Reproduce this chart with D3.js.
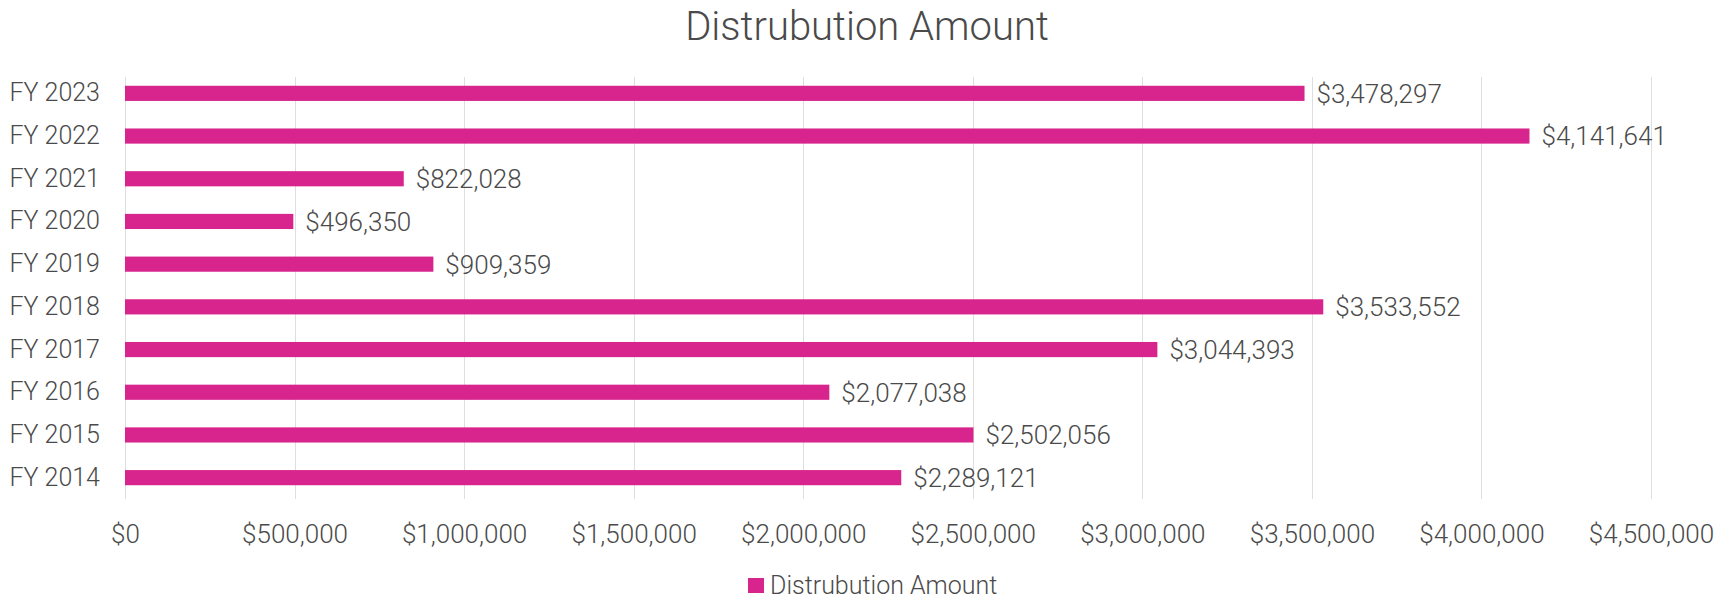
<!DOCTYPE html>
<html>
<head>
<meta charset="utf-8">
<script src="https://cdn.jsdelivr.net/npm/d3@7"></script>
<style>
  html, body { margin: 0; padding: 0; background: #fff; }
  svg { display: block; }
</style>
</head>
<body>
<svg id="chart" width="1724" height="600"></svg>
<script>
const categories = ["FY 2023", "FY 2022", "FY 2021", "FY 2020", "FY 2019", "FY 2018", "FY 2017", "FY 2016", "FY 2015", "FY 2014"];
const amounts = [3478297, 4141641, 822028, 496350, 909359, 3533552, 3044393, 2077038, 2502056, 2289121];
const xTicks = [0, 500000, 1000000, 1500000, 2000000, 2500000, 3000000, 3500000, 4000000, 4500000];
const seriesName = "Distrubution Amount";
const chartTitle = "Distrubution Amount";

const data = categories.map((c, i) => ({ cat: c, value: amounts[i] }));

const svg = d3.select("#chart");
const textFont = "Roboto, 'Open Sans', sans-serif";
const textColor = "#4a4a4a";
const barColor = "#d8248d";

const x = d3.scaleLinear().domain([0, 4500000]).range([125, 1651]);
const y = d3.scaleBand().domain(categories).range([72, 499]).paddingInner(0.645).paddingOuter(0.3225);

const fmt = v => "$" + d3.format(",")(v);

// gridlines
svg.append("g")
  .selectAll("line")
  .data(xTicks)
  .join("line")
  .attr("x1", d => Math.round(x(d)) + 0.5)
  .attr("x2", d => Math.round(x(d)) + 0.5)
  .attr("y1", 77)
  .attr("y2", 499)
  .attr("stroke", "#dedede")
  .attr("stroke-width", 1);

// x axis labels
const xAxis = d3.axisBottom(x).tickValues(xTicks).tickFormat(fmt).tickSize(0).tickPadding(0);
const gx = svg.append("g").attr("transform", "translate(0,525)").call(xAxis);
gx.select(".domain").remove();
gx.selectAll("text")
  .attr("dy", "0.71em")
  .attr("font-family", textFont)
  .attr("font-weight", 300)
  .attr("font-size", 26)
  .attr("fill", textColor);

// y axis labels
const yAxis = d3.axisLeft(y).tickSize(0).tickPadding(0);
const gy = svg.append("g").attr("transform", "translate(100,0)").call(yAxis);
gy.select(".domain").remove();
gy.selectAll("text")
  .attr("font-family", textFont)
  .attr("font-weight", 300)
  .attr("font-size", 25)
  .attr("fill", textColor);

// bars
svg.append("g")
  .selectAll("rect")
  .data(data)
  .join("rect")
  .attr("x", x(0))
  .attr("y", d => y(d.cat))
  .attr("width", d => x(d.value) - x(0))
  .attr("height", y.bandwidth())
  .attr("fill", barColor);

// data labels
svg.append("g")
  .selectAll("text")
  .data(data)
  .join("text")
  .attr("x", d => x(d.value) + 12)
  .attr("y", d => y(d.cat) + y.bandwidth() / 2)
  .attr("dy", "0.36em")
  .attr("font-family", textFont)
  .attr("font-weight", 300)
  .attr("font-size", 26)
  .attr("fill", textColor)
  .text(d => fmt(d.value));

// title
svg.append("text")
  .attr("x", 867)
  .attr("y", 40)
  .attr("text-anchor", "middle")
  .attr("font-family", textFont)
  .attr("font-weight", 300)
  .attr("font-size", 40)
  .attr("fill", textColor)
  .text(chartTitle);

// legend
const lg = svg.append("g");
lg.append("rect")
  .attr("x", 748).attr("y", 578).attr("width", 16).attr("height", 15)
  .attr("fill", barColor);
lg.append("text")
  .attr("x", 770).attr("y", 594)
  .attr("font-family", textFont)
  .attr("font-weight", 300)
  .attr("font-size", 25)
  .attr("fill", textColor)
  .text(seriesName);
</script>
</body>
</html>
